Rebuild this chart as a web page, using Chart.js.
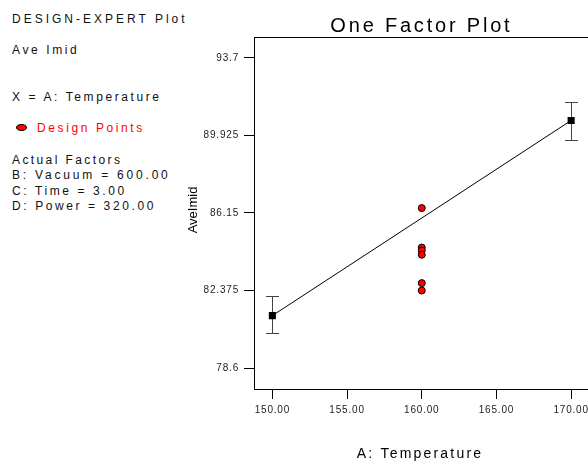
<!DOCTYPE html>
<html lang="en">
<head>
  <meta charset="UTF-8">
  <title>One Factor Plot</title>
  <script src="https://cdn.jsdelivr.net/npm/chart.js"></script>
  <style>
    html, body {
      margin: 0;
      padding: 0;
      background: #fff;
      overflow: hidden;
    }
    body {
      width: 588px;
      height: 463px;
      position: relative;
      font-family: "Liberation Sans", Arial, sans-serif;
    }
    #plot {
      position: absolute;
      left: 0;
      top: 0;
    }
    .info {
      position: absolute;
      left: 12px;
      font-size: 12px;
      line-height: 15px;
      letter-spacing: 2.6px;
      color: #111;
      white-space: nowrap;
    }
    .red { color: #ff0000; left: 37px; }
    .dot {
      position: absolute;
      left: 16px;
      top: 124px;
      width: 9px;
      height: 5px;
      border: 1px solid #000;
      border-radius: 50%;
      background: #ff0000;
    }
  </style>
</head>
<body>
  <!-- panneau de gauche -->
  <div class="info" style="top:12px; letter-spacing:3px">DESIGN-EXPERT Plot</div>
  <div class="info" style="top:43px">Ave Imid</div>
  <div class="info" style="top:90px">X = A: Temperature</div>
  <div class="dot"></div>
  <div class="info red" style="top:121px">Design Points</div>
  <div class="info" style="top:153px; letter-spacing:2.4px">Actual Factors</div>
  <div class="info" style="top:168px; letter-spacing:2.8px">B: Vacuum = 600.00</div>
  <div class="info" style="top:184px">C: Time = 3.00</div>
  <div class="info" style="top:199px">D: Power = 320.00</div>

  <canvas id="plot" width="600" height="463"></canvas>

  <script>
    // valeurs
    const temps = [150, 170];
    const predicted = [81.16, 90.65];
    const ciLow = [80.30, 89.72];
    const ciHigh = [82.12, 91.54];

    const designX = [160, 160, 160, 160, 160, 160];
    const designY = [86.39, 84.47, 84.33, 84.12, 82.74, 82.38];

    const xTicks = [150, 155, 160, 165, 170];
    const xTickLabels = ['150.00', '155.00', '160.00', '165.00', '170.00'];
    const yTicks = [78.6, 82.375, 86.15, 89.925, 93.7];
    const yTickLabels = ['78.6', '82.375', '86.15', '89.925', '93.7'];

    const FONT = '"Liberation Sans", Arial, sans-serif';

    // barres d'erreur + cadre + titres
    const extras = {
      id: 'extras',
      beforeDraw(chart) {
        chart.ctx.letterSpacing = '0.8px';
      },
      beforeDatasetsDraw(chart) {
        const { ctx, scales: { x, y } } = chart;
        ctx.save();
        ctx.strokeStyle = '#444';
        ctx.lineWidth = 1;
        temps.forEach((t, i) => {
          const px = Math.round(x.getPixelForValue(t)) + 0.5;
          const top = Math.round(y.getPixelForValue(ciHigh[i])) + 0.5;
          const bot = Math.round(y.getPixelForValue(ciLow[i])) + 0.5;
          ctx.beginPath();
          ctx.moveTo(px, top); ctx.lineTo(px, bot);
          ctx.moveTo(px - 6.5, top); ctx.lineTo(px + 6.5, top);
          ctx.moveTo(px - 6.5, bot); ctx.lineTo(px + 6.5, bot);
          ctx.stroke();
        });
        ctx.restore();
      },
      afterDraw(chart) {
        const { ctx, chartArea: a } = chart;
        ctx.save();
        ctx.strokeStyle = '#000';
        ctx.lineWidth = 1;
        ctx.beginPath();
        ctx.moveTo(a.left, Math.round(a.top) + 0.5);
        ctx.lineTo(a.right, Math.round(a.top) + 0.5);
        ctx.moveTo(Math.round(a.right) - 0.5, a.top);
        ctx.lineTo(Math.round(a.right) - 0.5, a.bottom);
        ctx.stroke();

        ctx.fillStyle = '#000';
        ctx.textAlign = 'center';
        ctx.textBaseline = 'alphabetic';

        ctx.font = '20px ' + FONT;
        ctx.letterSpacing = '2.8px';
        ctx.fillText('One Factor Plot', 421.4, 32);

        ctx.font = '14px ' + FONT;
        ctx.letterSpacing = '2.2px';
        ctx.fillText('A: Temperature', 420, 458);

        ctx.font = '13px ' + FONT;
        ctx.letterSpacing = '0px';
        ctx.translate(197, (a.top + a.bottom) / 2 - 3);
        ctx.rotate(-Math.PI / 2);
        ctx.fillText('AveImid', 0, 0);
        ctx.restore();
      }
    };

    const ctx = document.getElementById('plot').getContext('2d');
    new Chart(ctx, {
      type: 'scatter',
      data: {
        datasets: [
          {
            label: 'Design Points',
            data: designX.map((v, i) => ({ x: v, y: designY[i] })),
            backgroundColor: '#ff0000',
            borderColor: '#000',
            borderWidth: 1,
            pointRadius: 3.5,
            pointHoverRadius: 3.5,
            order: 2
          },
          {
            label: 'Predicted',
            type: 'line',
            data: temps.map((v, i) => ({ x: v, y: predicted[i] })),
            borderColor: '#000',
            borderWidth: 1,
            backgroundColor: '#000',
            pointStyle: 'rect',
            pointRadius: 5,
            pointBorderWidth: 0,
            fill: false,
            order: 1
          }
        ]
      },
      options: {
        responsive: false,
        animation: false,
        events: [],
        layout: { padding: { left: 0, top: 37, right: 10.5, bottom: 0 } },
        plugins: {
          legend: { display: false },
          title: { display: false },
          tooltip: { enabled: false }
        },
        scales: {
          x: {
            type: 'linear',
            min: 148.77,
            max: 171.23,
            afterBuildTicks: s => { s.ticks = xTicks.map(v => ({ value: v })); },
            afterFit: s => { s.height = 74; },
            grid: { drawOnChartArea: false, tickLength: 10, tickColor: '#000' },
            border: { color: '#000', width: 1 },
            ticks: {
              color: '#222',
              font: { size: 10, family: FONT },
              padding: 5,
              maxRotation: 0,
              callback: (v, i) => xTickLabels[i]
            }
          },
          y: {
            type: 'linear',
            min: 77.59,
            max: 94.71,
            afterBuildTicks: s => { s.ticks = yTicks.map(v => ({ value: v })); },
            afterFit: s => { s.width = 254; },
            grid: { drawOnChartArea: false, tickLength: 10, tickColor: '#000' },
            border: { color: '#000', width: 1 },
            ticks: {
              color: '#222',
              font: { size: 10, family: FONT },
              padding: 5,
              callback: (v, i) => yTickLabels[i]
            }
          }
        }
      },
      plugins: [extras]
    });
  </script>
</body>
</html>
